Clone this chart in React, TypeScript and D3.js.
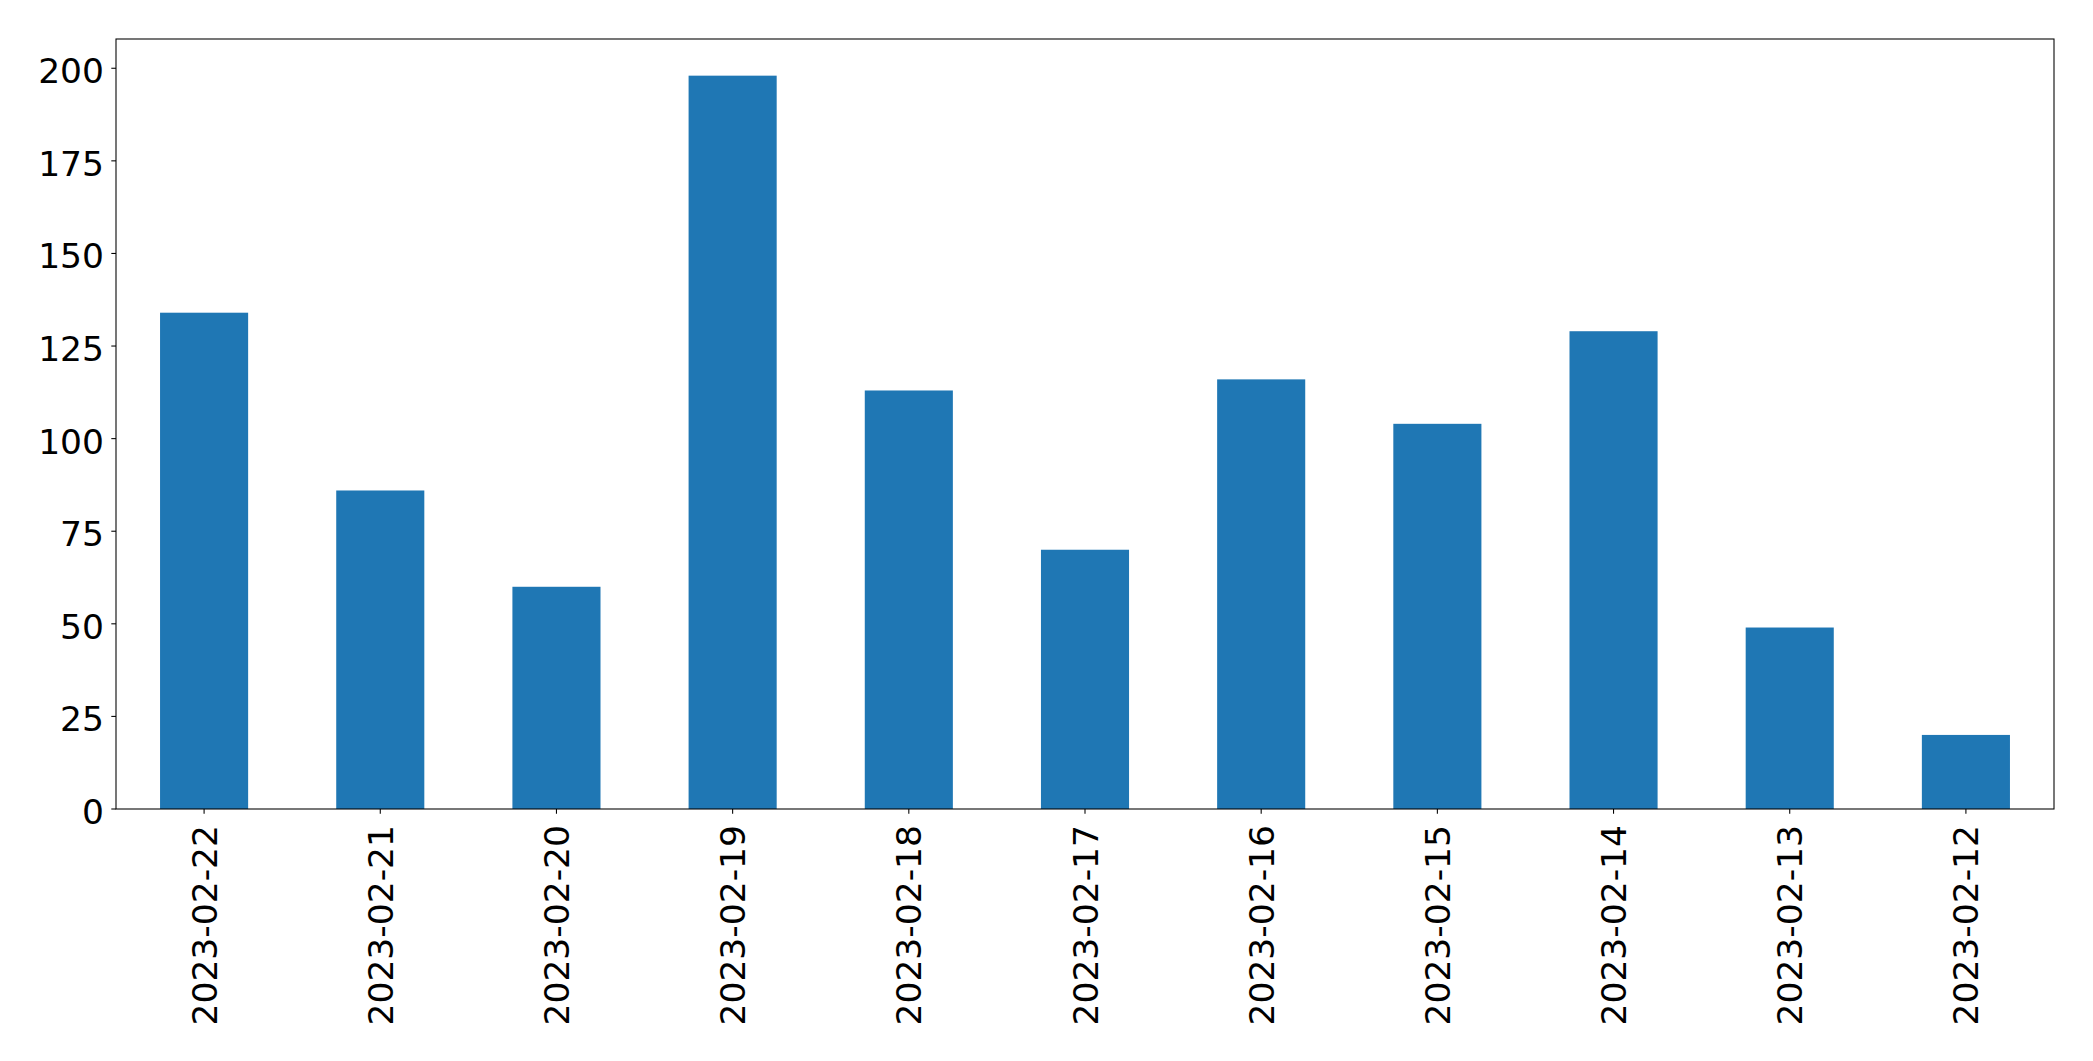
import React from "react";
import * as d3 from "d3";

const categories = [
  "2023-02-22", "2023-02-21", "2023-02-20", "2023-02-19", "2023-02-18", "2023-02-17",
  "2023-02-16", "2023-02-15", "2023-02-14", "2023-02-13", "2023-02-12",
];
const values = [134, 86, 60, 198, 113, 70, 116, 104, 129, 49, 20];
const yTicks = [0, 25, 50, 75, 100, 125, 150, 175, 200];

const W = 2093, H = 1061;
const left = 116, right = 2054, top = 39, bottom = 809;
const FONT = "'DejaVu Sans', sans-serif";
const FS = 34.5;

export default function App() {
  const x = d3.scaleBand<string>().domain(categories).range([left, right]).paddingInner(0.5).paddingOuter(0.25);
  const y = d3.scaleLinear().domain([0, d3.max(values)! * 1.05]).range([bottom, top]);
  return (
    <svg width={W} height={H} style={{ position: "absolute", left: 0, top: 0, background: "#fff" }}>
      <rect x={0} y={0} width={W} height={H} fill="#fff" />
      {values.map((v, i) => (
        <rect key={i} x={x(categories[i])} y={y(v)} width={x.bandwidth()} height={y(0) - y(v)} fill="#1f77b4" />
      ))}
      <rect x={left} y={top} width={right - left} height={bottom - top} fill="none" stroke="#000" strokeWidth={1.07} />
      {yTicks.map((t) => (
        <g key={t}>
          <line x1={left - 4.7} x2={left} y1={y(t)} y2={y(t)} stroke="#000" strokeWidth={1.07} />
          <text x={left - 12} y={y(t)} dy={15} textAnchor="end" fontFamily={FONT} fontSize={FS} fill="#000">{t}</text>
        </g>
      ))}
      {categories.map((c) => {
        const cx = x(c)! + x.bandwidth() / 2;
        return (
          <g key={c}>
            <line x1={cx} x2={cx} y1={bottom} y2={bottom + 4.7} stroke="#000" strokeWidth={1.07} />
            <text transform={`translate(${cx},${bottom + 16}) rotate(-90)`} dy={12.5} textAnchor="end" fontFamily={FONT} fontSize={FS} fill="#000">{c}</text>
          </g>
        );
      })}
    </svg>
  );
}
